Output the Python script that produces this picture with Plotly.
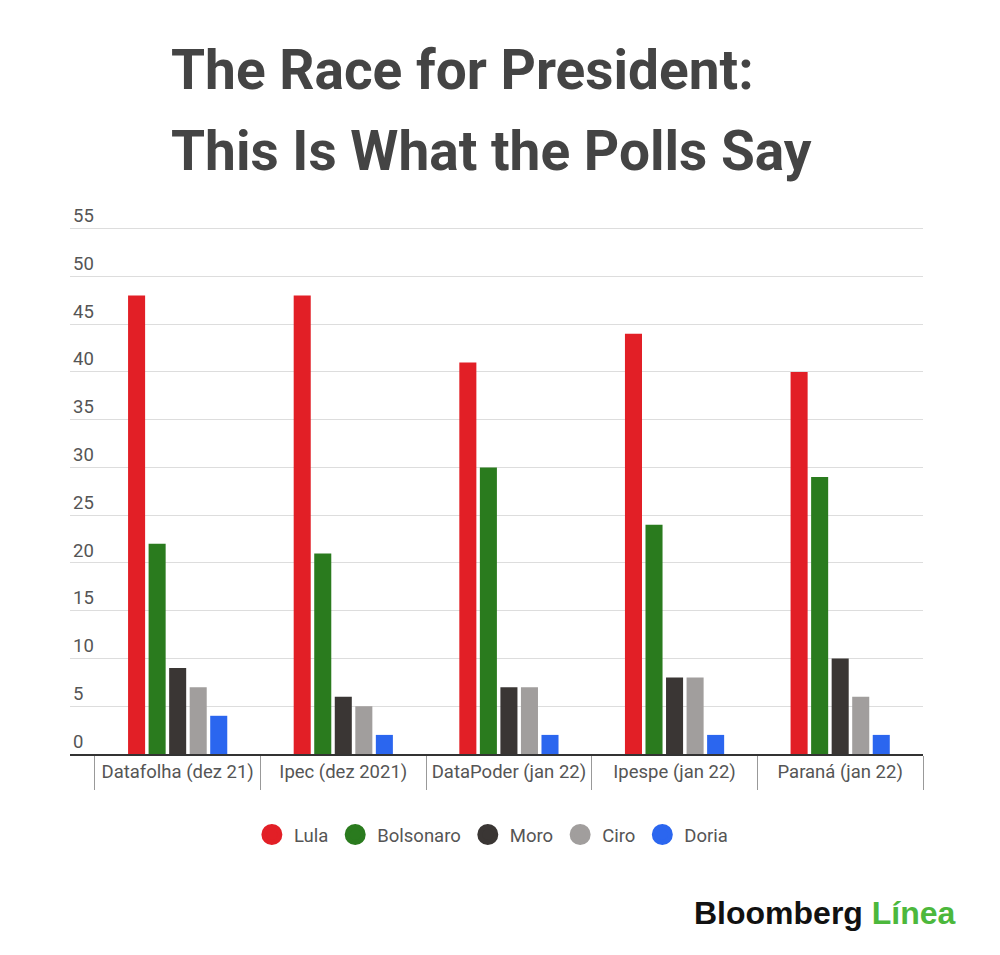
import plotly.graph_objects as go

# Dados das pesquisas
institutos = ["Datafolha (dez 21)", "Ipec (dez 2021)", "DataPoder (jan 22)",
              "Ipespe (jan 22)", "Paraná (jan 22)"]
lula = [48, 48, 41, 44, 40]
bolsonaro = [22, 21, 30, 24, 29]
moro = [9, 6, 7, 8, 10]
ciro = [7, 5, 7, 8, 6]
doria = [4, 2, 2, 2, 2]
y_ticks = [0, 5, 10, 15, 20, 25, 30, 35, 40, 45, 50, 55]

series = [
    ("Lula", lula, "#e21f26"),
    ("Bolsonaro", bolsonaro, "#2a7b1e"),
    ("Moro", moro, "#3a3634"),
    ("Ciro", ciro, "#a19e9d"),
    ("Doria", doria, "#2b66ef"),
]

fig = go.Figure()
for nome, valores, cor in series:
    fig.add_trace(go.Bar(x=institutos, y=valores, name=nome, marker_color=cor,
                         marker_line_width=0, showlegend=False))
    # entrada de legenda com círculo
    fig.add_trace(go.Scatter(x=[None], y=[None], mode="markers", name=nome,
                             marker=dict(symbol="circle", size=16, color=cor,
                                         line=dict(width=6, color=cor))))

fig.update_layout(
    width=1000, height=955,
    paper_bgcolor="white", plot_bgcolor="white",
    margin=dict(l=62, r=85, t=192, b=209),
    barmode="group", bargap=0.38, bargroupgap=0.17,
    font=dict(family="Roboto", color="#555555", size=18.5),
    legend=dict(orientation="h", x=0.494, xanchor="center", y=-0.1462, yanchor="middle",
                font=dict(size=18.5, color="#555555"), itemwidth=34),
)

# Título em duas linhas
fig.add_annotation(text="<b>The Race for President:</b>", xref="paper", yref="paper",
                   x=0.116, y=1.2347, xanchor="left", yanchor="middle", showarrow=False,
                   font=dict(family="Roboto", size=55, color="#444444"))
fig.add_annotation(text="<b>This Is What the Polls Say</b>", xref="paper", yref="paper",
                   x=0.116, y=1.0884, xanchor="left", yanchor="middle", showarrow=False,
                   font=dict(family="Roboto", size=55, color="#444444"))

fig.update_xaxes(
    type="category", range=[-0.65, 4.5],
    showline=True, linecolor="#333333", linewidth=2,
    tickson="boundaries", ticks="outside", ticklen=34, tickcolor="#999999", tickwidth=1,
    showgrid=False, tickfont=dict(size=18.5, color="#555555"),
)
fig.update_yaxes(
    range=[0, 58], tickvals=y_ticks,
    showgrid=True, gridcolor="#dddddd", gridwidth=1,
    zeroline=False, showline=False,
    ticklabelposition="inside top",
    tickfont=dict(size=18.5, color="#555555"),
)

fig.add_annotation(
    text="<b>Bloomberg</b> <b><span style='color:#4cb83c'>Línea</span></b>",
    xref="paper", yref="paper", x=1.041, y=-0.287, xanchor="right", yanchor="middle",
    showarrow=False, font=dict(family="Liberation Sans", size=32, color="#111111"),
)

fig.write_html("out.html")
